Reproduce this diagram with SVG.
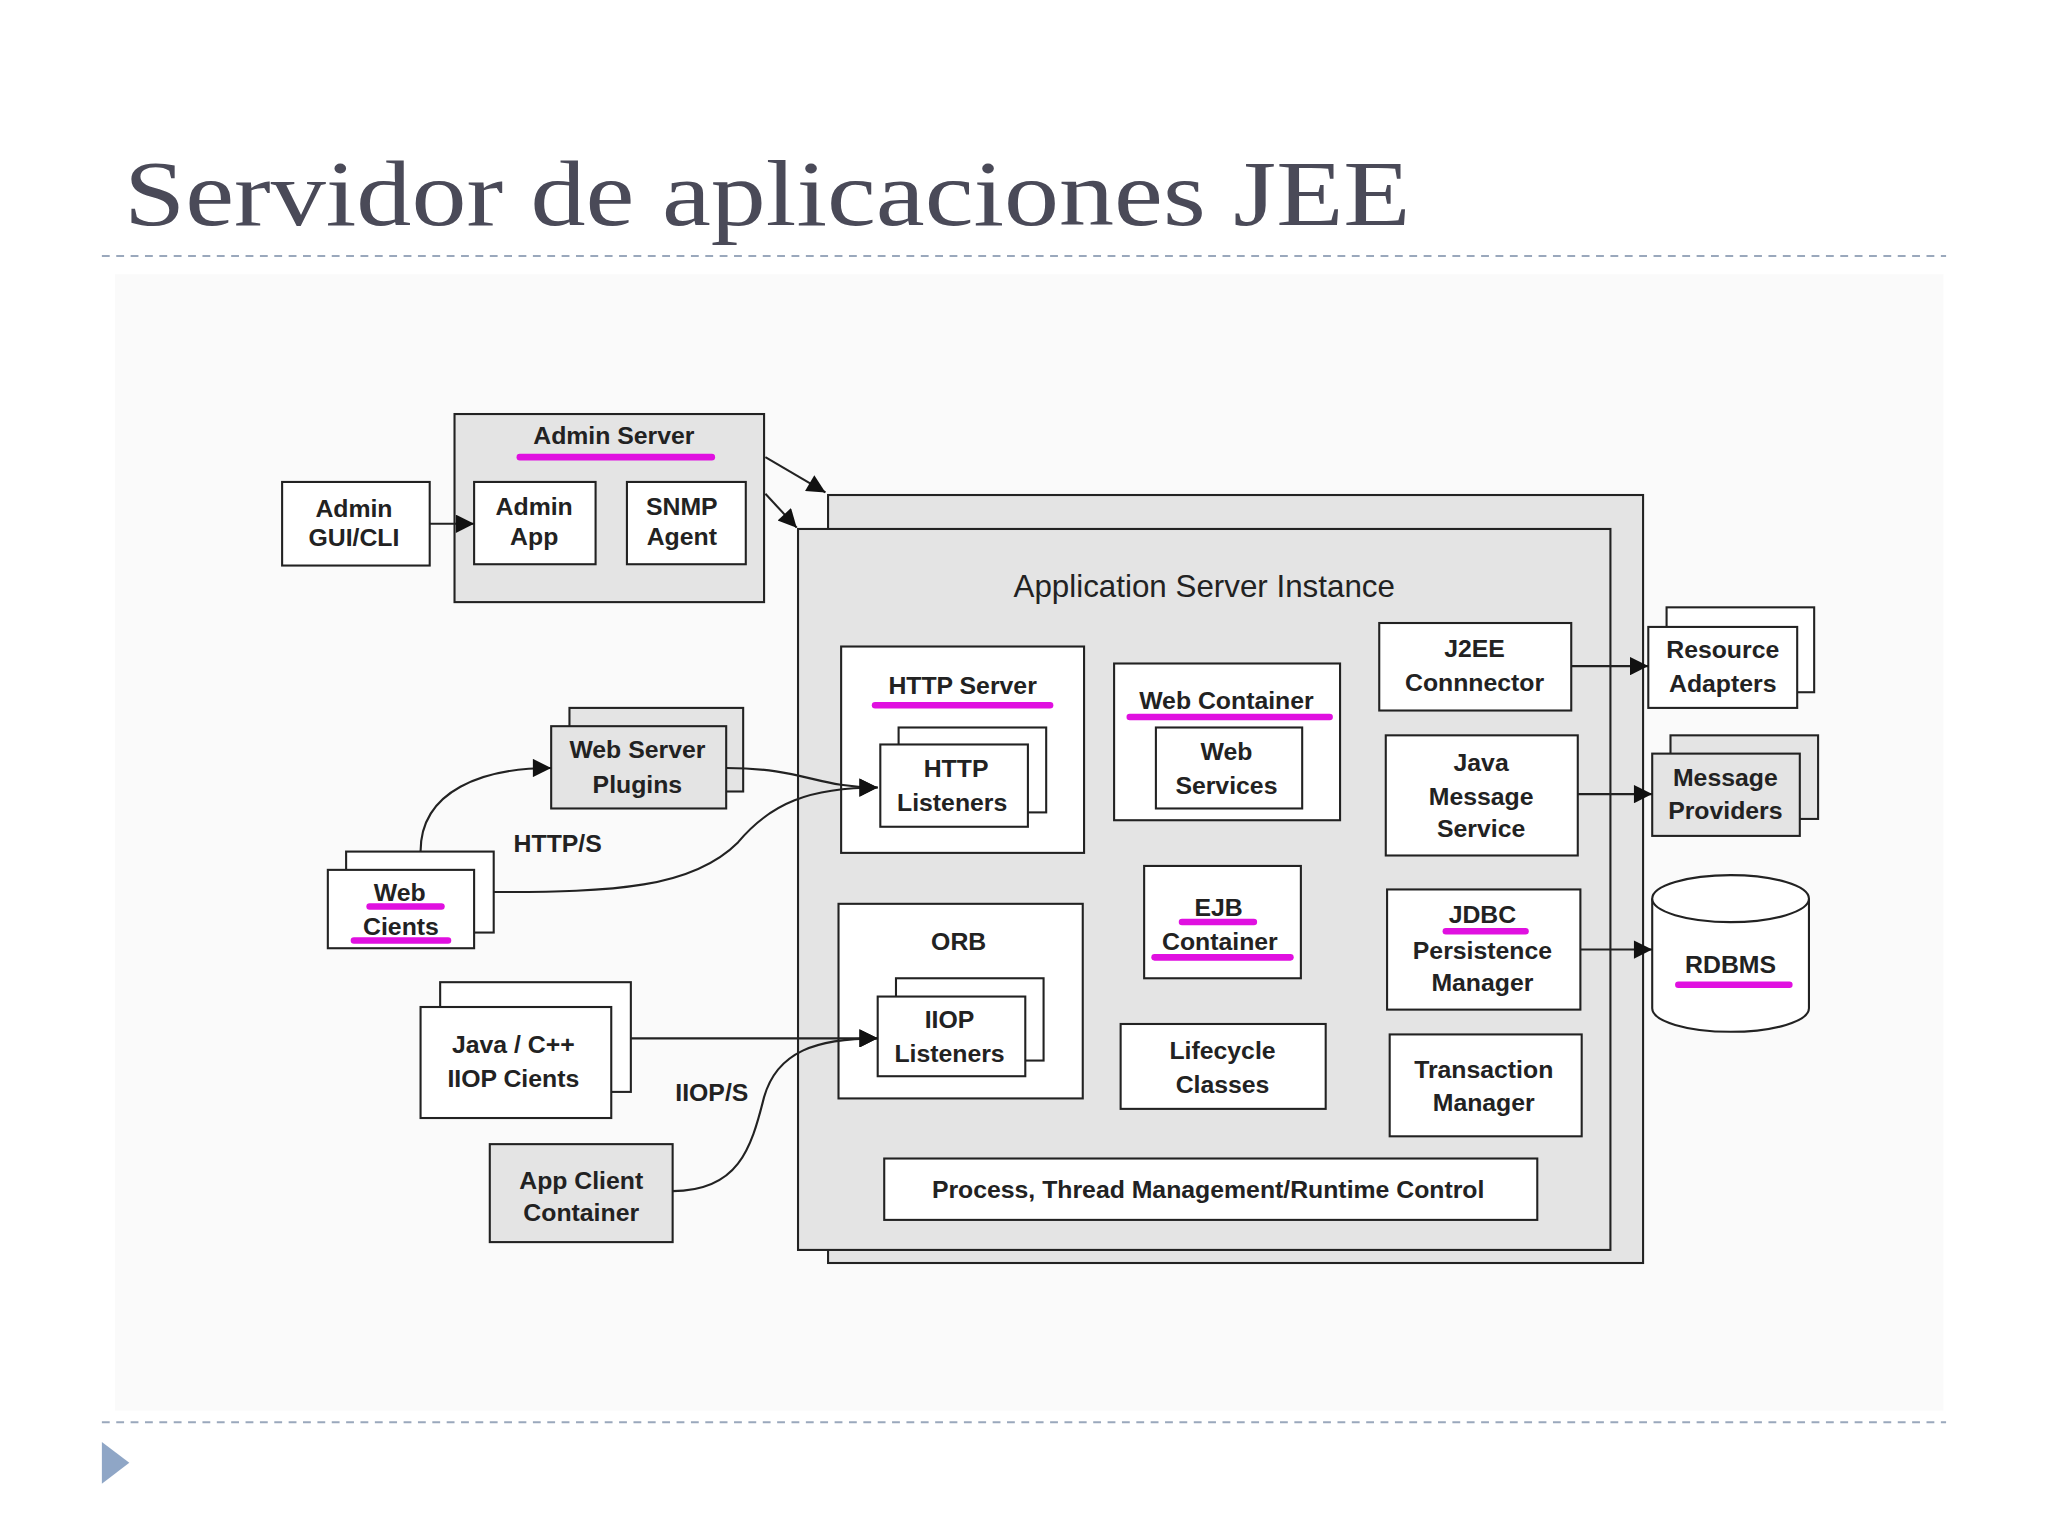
<svg xmlns="http://www.w3.org/2000/svg" width="2048" height="1536" viewBox="0 0 2048 1536">
<style>
.g{fill:#e4e4e4;stroke:#222;stroke-width:1.6}
.w{fill:#fff;stroke:#222;stroke-width:1.6}
.t{font-family:"Liberation Sans",Arial,sans-serif;font-size:19px;font-weight:bold;fill:#222;text-anchor:middle}
.u{stroke:#e010e0;stroke-width:5;stroke-linecap:round}
.c{fill:none;stroke:#222;stroke-width:1.6;marker-end:url(#a)}
</style>
<defs><marker id="a" viewBox="0 0 10 10" refX="10" refY="5" markerWidth="18" markerHeight="14" orient="auto" markerUnits="userSpaceOnUse"><path d="M0,0L10,5L0,10z" fill="#111"/></marker></defs>
<rect width="2048" height="1536" fill="#fff"/>
<g transform="scale(1.3061)">
<rect x="88" y="210" width="1400" height="870" fill="#fafafa"/>
<text x="95" y="172" font-family="Liberation Serif,serif" font-size="72" fill="#4a4a58" textLength="985" lengthAdjust="spacingAndGlyphs">Servidor de aplicaciones JEE</text>
<g stroke="#9aa8bc" stroke-width="1.5" stroke-dasharray="6,5"><line x1="78" y1="196" x2="1490" y2="196"/><line x1="78" y1="1089" x2="1490" y2="1089"/></g>
<path d="M78,1104L99,1120L78,1136z" fill="#8fa6c6"/>

<g id="app-server"><rect class="g" x="634" y="379" width="624" height="588"/><rect class="g" x="611" y="405" width="622" height="552"/><text class="t" x="922" y="457" style="font-weight:normal;font-size:24px">Application Server Instance</text></g>
<g id="admin-gui"><rect class="w" x="216" y="369" width="113" height="64"/><text class="t" x="271" y="396">Admin</text><text class="t" x="271" y="418">GUI/CLI</text></g>
<g id="admin-server"><rect class="g" x="348" y="317" width="237" height="144"/><text class="t" x="470" y="340">Admin Server</text><line class="u" x1="398" y1="350" x2="545" y2="350"/>
<rect class="w" x="363" y="369" width="93" height="63"/><text class="t" x="409" y="394">Admin</text><text class="t" x="409" y="417">App</text>
<rect class="w" x="480" y="369" width="91" height="63"/><text class="t" x="522" y="394">SNMP</text><text class="t" x="522" y="417">Agent</text></g>
<g id="http-server"><rect class="w" x="644" y="495" width="186" height="158"/><text class="t" x="737" y="531">HTTP Server</text><line class="u" x1="670" y1="540" x2="804" y2="540"/>
<rect class="w" x="688" y="557" width="113" height="65"/><rect class="w" x="674" y="570" width="113" height="63"/><text class="t" x="732" y="595">HTTP</text><text class="t" x="729" y="621">Listeners</text></g>
<g id="web-container"><rect class="w" x="853" y="508" width="173" height="120"/><text class="t" x="939" y="543">Web Container</text><line class="u" x1="865" y1="549" x2="1018" y2="549"/>
<rect class="w" x="885" y="557" width="112" height="62"/><text class="t" x="939" y="582">Web</text><text class="t" x="939" y="608">Services</text></g>
<g id="j2ee"><rect class="w" x="1056" y="477" width="147" height="67"/><text class="t" x="1129" y="503">J2EE</text><text class="t" x="1129" y="529">Connnector</text></g>
<g id="jms"><rect class="w" x="1061" y="563" width="147" height="92"/><text class="t" x="1134" y="590">Java</text><text class="t" x="1134" y="616">Message</text><text class="t" x="1134" y="641">Service</text></g>
<g id="orb"><rect class="w" x="642" y="692" width="187" height="149"/><text class="t" x="734" y="727">ORB</text>
<rect class="w" x="686" y="749" width="113" height="63"/><rect class="w" x="672" y="763" width="113" height="61"/><text class="t" x="727" y="787">IIOP</text><text class="t" x="727" y="813">Listeners</text></g>
<g id="ejb"><rect class="w" x="876" y="663" width="120" height="86"/><text class="t" x="933" y="701">EJB</text><line class="u" x1="905" y1="706" x2="960" y2="706"/><text class="t" x="934" y="727">Container</text><line class="u" x1="884" y1="733" x2="988" y2="733"/></g>
<g id="jdbc"><rect class="w" x="1062" y="681" width="148" height="92"/><text class="t" x="1135" y="707">JDBC</text><line class="u" x1="1107" y1="713" x2="1168" y2="713"/><text class="t" x="1135" y="734">Persistence</text><text class="t" x="1135" y="759">Manager</text></g>
<g id="lifecycle"><rect class="w" x="858" y="784" width="157" height="65"/><text class="t" x="936" y="811">Lifecycle</text><text class="t" x="936" y="837">Classes</text></g>
<g id="tx"><rect class="w" x="1064" y="792" width="147" height="78"/><text class="t" x="1136" y="825">Transaction</text><text class="t" x="1136" y="851">Manager</text></g>
<g id="process"><rect class="w" x="677" y="887" width="500" height="47"/><text class="t" x="925" y="917">Process, Thread Management/Runtime Control</text></g>
<g id="resource"><rect class="w" x="1276" y="465" width="113" height="65"/><rect class="w" x="1262" y="480" width="114" height="62"/><text class="t" x="1319" y="504">Resource</text><text class="t" x="1319" y="530">Adapters</text></g>
<g id="msgprov"><rect class="g" x="1279" y="563" width="113" height="64"/><rect class="g" x="1265" y="577" width="113" height="63"/><text class="t" x="1321" y="602">Message</text><text class="t" x="1321" y="627">Providers</text></g>
<g id="rdbms"><path class="w" d="M1265,688L1265,772A60,18 0 0 0 1385,772L1385,688"/><ellipse class="w" cx="1325" cy="688" rx="60" ry="18"/><text class="t" x="1325" y="745">RDBMS</text><line class="u" x1="1285" y1="754" x2="1370" y2="754"/></g>
<g id="plugins"><rect class="g" x="436" y="542" width="133" height="64"/><rect class="g" x="422" y="556" width="134" height="63"/><text class="t" x="488" y="580">Web Server</text><text class="t" x="488" y="607">Plugins</text></g>
<g id="web-clients"><rect class="w" x="265" y="652" width="113" height="62"/><rect class="w" x="251" y="666" width="112" height="60"/><text class="t" x="306" y="690">Web</text><line class="u" x1="283" y1="694" x2="338" y2="694"/><text class="t" x="307" y="716">Cients</text><line class="u" x1="271" y1="720" x2="343" y2="720"/></g>
<g id="iiop-clients"><rect class="w" x="337" y="752" width="146" height="84"/><rect class="w" x="322" y="771" width="146" height="85"/><text class="t" x="393" y="806">Java / C++</text><text class="t" x="393" y="832">IIOP Cients</text></g>
<g id="app-client"><rect class="g" x="375" y="876" width="140" height="75"/><text class="t" x="445" y="910">App Client</text><text class="t" x="445" y="935">Container</text></g>
<text class="t" x="427" y="652">HTTP/S</text><text class="t" x="545" y="843">IIOP/S</text>

<g id="connectors">
<path class="c" d="M329,401H363"/>
<path class="c" d="M586,350L632,377"/>
<path class="c" d="M586,378L610,404"/>
<path class="c" d="M1203,510H1262"/>
<path class="c" d="M1208,608H1265"/>
<path class="c" d="M1210,727H1265"/>
<path class="c" d="M322,652C322,605 370,588 422,588"/>
<path class="c" d="M556,588C615,588 625,603 672,603"/>
<path class="c" d="M378,683C470,683 530,680 565,645C590,615 620,603 672,603"/>
<path class="c" d="M483,795H672"/>
<path class="c" d="M515,912C565,912 575,880 585,840C595,805 625,795 672,795"/>
</g>
</g>
</svg>
